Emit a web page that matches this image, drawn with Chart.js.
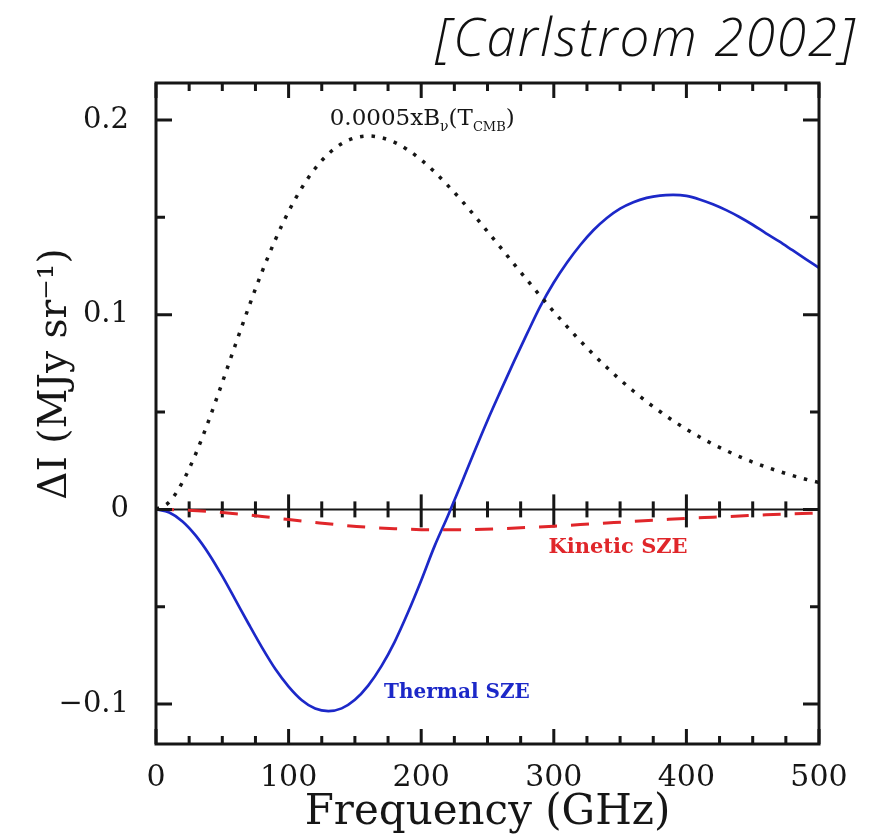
<!DOCTYPE html>
<html>
<head>
<meta charset="utf-8">
<script src="https://cdn.jsdelivr.net/npm/chart.js@4.4.0/dist/chart.umd.min.js"></script>
<style>
  html, body { margin: 0; padding: 0; background: #fff; }
</style>
</head>
<body>
<canvas id="szeChart" width="876" height="839"></canvas>
<script>
// frequency grid in GHz
const freqGHz = [0, 10, 20, 30, 40, 50, 60, 70, 80, 90, 100, 110, 120, 130, 140, 150, 160, 170, 180, 190,
  200, 210, 220, 230, 240, 250, 260, 270, 280, 290, 300, 310, 320, 330, 340, 350, 360, 370, 380, 390,
  400, 410, 420, 430, 440, 450, 460, 470, 480, 490, 500];

// 0.0005 x B_nu(T_CMB), MJy/sr
const cmbScaled = [0, 0.0038, 0.0140, 0.0286, 0.0461, 0.0652, 0.0848, 0.1040, 0.1221, 0.1385, 0.1530,
  0.1652, 0.1751, 0.1826, 0.1878, 0.1908, 0.1918, 0.1909, 0.1885, 0.1846, 0.1795, 0.1734, 0.1664,
  0.1590, 0.1510, 0.1427, 0.1344, 0.1260, 0.1177, 0.1095, 0.1015, 0.0939, 0.0865, 0.0795, 0.0729,
  0.0666, 0.0608, 0.0553, 0.0503, 0.0455, 0.0412, 0.0372, 0.0335, 0.0302, 0.0271, 0.0243, 0.0218,
  0.0195, 0.0174, 0.0155, 0.0138];

// thermal SZ distortion, MJy/sr
const thermalSZE = [0, -0.0016, -0.0062, -0.0135, -0.0230, -0.0343, -0.0466, -0.0590, -0.0710, -0.0820,
  -0.0910, -0.0980, -0.1023, -0.1036, -0.1022, -0.0978, -0.0905, -0.0805, -0.0680, -0.0530, -0.0365,
  -0.0190, -0.0035, 0.0128, 0.0295, 0.0457, 0.0610, 0.0760, 0.0905, 0.1045, 0.1165, 0.1268, 0.1358,
  0.1435, 0.1497, 0.1545, 0.1578, 0.1600, 0.1612, 0.1615, 0.1610, 0.1592, 0.1567, 0.1537, 0.1502,
  0.1462, 0.1418, 0.1376, 0.1331, 0.1286, 0.1240];

// kinetic SZ distortion, MJy/sr
const freqKinetic = [0, 20, 40, 60, 80, 100, 120, 140, 160, 180, 200, 220, 240, 260, 280, 300, 320, 340,
  360, 380, 400, 420, 440, 460, 480, 500];
const kineticSZE = [0, -0.0003, -0.0010, -0.0022, -0.0036, -0.0052, -0.0067, -0.0081, -0.0092, -0.0099,
  -0.0104, -0.0105, -0.0103, -0.0099, -0.0093, -0.0086, -0.0078, -0.0070, -0.0062, -0.0054, -0.0046,
  -0.0040, -0.0034, -0.0028, -0.0023, -0.0019];

// axis ticks
const xTicks = [0, 25, 50, 75, 100, 125, 150, 175, 200, 225, 250, 275, 300, 325, 350, 375, 400, 425, 450, 475, 500];
const xLabelled = [0, 100, 200, 300, 400, 500];
const xLabels = ['0', '100', '200', '300', '400', '500'];
const yTicks = [-0.1, -0.05, 0, 0.05, 0.1, 0.15, 0.2];
const yLabelled = [-0.1, 0, 0.1, 0.2];
const yLabels = ['\u22120.1', '0', '0.1', '0.2'];

const serif = '"DejaVu Serif", "Liberation Serif", serif';
const ink = '#161616';
const blue = '#1c28c8';
const red = '#e0262a';

const toPoints = (xs, ys) => xs.map((v, i) => ({ x: v, y: ys[i] }));
const isMajorX = v => xLabelled.includes(v);
const isMajorY = v => yLabelled.some(m => Math.abs(m - v) < 1e-9);

// zero line with crossing ticks, under the curves
const zeroAxis = {
  id: 'zeroAxis',
  beforeDatasetsDraw(chart) {
    const { ctx, chartArea: a, scales: { x, y } } = chart;
    const y0 = y.getPixelForValue(0);
    ctx.save();
    ctx.strokeStyle = ink;
    ctx.lineWidth = 2;
    ctx.beginPath();
    ctx.moveTo(a.left, y0);
    ctx.lineTo(a.right, y0);
    ctx.stroke();
    ctx.lineWidth = 3;
    xTicks.forEach(v => {
      if (v === 0 || v === 500) return;
      const px = x.getPixelForValue(v);
      const up = isMajorX(v) ? 15 : 8;
      const down = isMajorX(v) ? 18 : 8;
      ctx.beginPath();
      ctx.moveTo(px, y0 - up);
      ctx.lineTo(px, y0 + down);
      ctx.stroke();
    });
    ctx.restore();
  }
};

// box frame, inward ticks, y title, curve labels and reference tag
const frameAndNotes = {
  id: 'frameAndNotes',
  afterDatasetsDraw(chart) {
    const { ctx, chartArea: a, scales: { x, y } } = chart;
    ctx.save();
    ctx.strokeStyle = ink;
    ctx.lineWidth = 3;
    ctx.strokeRect(a.left, a.top, a.right - a.left, a.bottom - a.top);

    xTicks.forEach(v => {
      const px = x.getPixelForValue(v);
      const len = isMajorX(v) ? 15 : 8;
      ctx.beginPath();
      ctx.moveTo(px, a.top);
      ctx.lineTo(px, a.top + len);
      ctx.moveTo(px, a.bottom);
      ctx.lineTo(px, a.bottom - len);
      ctx.stroke();
    });
    yTicks.forEach(v => {
      const py = y.getPixelForValue(v);
      const len = isMajorY(v) ? 16 : 9;
      ctx.beginPath();
      ctx.moveTo(a.left, py);
      ctx.lineTo(a.left + len, py);
      ctx.moveTo(a.right, py);
      ctx.lineTo(a.right - len, py);
      ctx.stroke();
    });

    // y axis title, rotated
    ctx.save();
    ctx.translate(56, 374);
    ctx.rotate(-Math.PI / 2);
    ctx.fillStyle = ink;
    ctx.textAlign = 'center';
    ctx.textBaseline = 'middle';
    ctx.font = '39px ' + serif;
    ctx.fillText('\u0394I (MJy sr\u207b\u00b9)', 0, 0);
    ctx.restore();

    // 0.0005 x B_nu(T_CMB)
    let cx = x.getPixelForValue(131);
    const by = y.getPixelForValue(0.1975);
    ctx.fillStyle = ink;
    ctx.textBaseline = 'alphabetic';
    ctx.textAlign = 'left';
    const part = (txt, size, dy) => {
      ctx.font = size + 'px ' + serif;
      ctx.fillText(txt, cx, by + dy);
      cx += ctx.measureText(txt).width;
    };
    part('0.0005xB', 23, 0);
    part('\u03bd', 14, 6);
    part('(T', 23, 0);
    part('CMB', 13, 6);
    part(')', 23, 0);

    ctx.font = 'bold 21px ' + serif;
    ctx.textBaseline = 'middle';
    ctx.fillStyle = red;
    ctx.fillText('Kinetic SZE', x.getPixelForValue(296), y.getPixelForValue(-0.0195));
    ctx.font = 'bold 20px ' + serif;
    ctx.fillStyle = blue;
    ctx.fillText('Thermal SZE', x.getPixelForValue(172), y.getPixelForValue(-0.094));

    ctx.fillStyle = '#111';
    ctx.font = 'italic 300 53px "Open Sans", Lato, sans-serif';
    ctx.letterSpacing = '2px';
    ctx.textAlign = 'right';
    ctx.fillText('[Carlstrom 2002]', 857, 41);
    ctx.restore();
  }
};

new Chart(document.getElementById('szeChart'), {
  type: 'line',
  data: {
    datasets: [
      {
        label: 'CMB',
        data: toPoints(freqGHz, cmbScaled),
        borderColor: ink,
        borderWidth: 3.5,
        borderDash: [3.5, 8],
        pointRadius: 0,
        cubicInterpolationMode: 'monotone'
      },
      {
        label: 'Kinetic SZE',
        data: toPoints(freqKinetic, kineticSZE),
        borderColor: red,
        borderWidth: 3,
        borderDash: [18, 14],
        pointRadius: 0,
        cubicInterpolationMode: 'monotone'
      },
      {
        label: 'Thermal SZE',
        data: toPoints(freqGHz, thermalSZE),
        borderColor: blue,
        borderWidth: 2.7,
        pointRadius: 0,
        cubicInterpolationMode: 'monotone'
      }
    ]
  },
  options: {
    responsive: false,
    devicePixelRatio: 1,
    animation: false,
    layout: { padding: { left: 0, right: 57, top: 83, bottom: 0 } },
    plugins: { legend: { display: false }, tooltip: { enabled: false } },
    scales: {
      x: {
        type: 'linear',
        min: 0,
        max: 500,
        afterBuildTicks: s => { s.ticks = xTicks.map(v => ({ value: v })); },
        afterFit: s => { s.height = 95; },
        grid: { display: false },
        border: { display: false },
        ticks: {
          autoSkip: false,
          maxRotation: 0,
          padding: 8,
          color: ink,
          font: { family: serif, size: 30 },
          callback: v => { const i = xLabelled.indexOf(v); return i < 0 ? '' : xLabels[i]; }
        },
        title: {
          display: true,
          text: 'Frequency (GHz)',
          color: ink,
          font: { family: serif, size: 42, lineHeight: 1 },
          padding: { top: 0, bottom: 5 }
        }
      },
      y: {
        type: 'linear',
        min: -0.1205,
        max: 0.219,
        afterBuildTicks: s => { s.ticks = yTicks.map(v => ({ value: v })); },
        afterFit: s => { s.width = 156; },
        grid: { display: false },
        border: { display: false },
        ticks: {
          autoSkip: false,
          padding: 19,
          color: ink,
          font: { family: serif, size: 29 },
          callback: v => { const i = yLabelled.findIndex(m => Math.abs(m - v) < 1e-9); return i < 0 ? '' : yLabels[i]; }
        },
        title: { display: false }
      }
    }
  },
  plugins: [zeroAxis, frameAndNotes]
});
</script>
</body>
</html>
